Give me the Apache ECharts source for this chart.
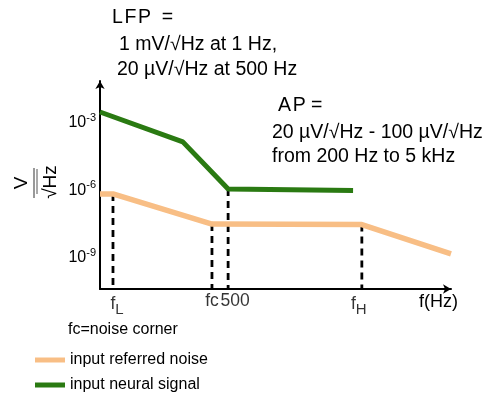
<!DOCTYPE html>
<html><head><meta charset="utf-8">
<script src="https://cdn.jsdelivr.net/npm/echarts@6/dist/echarts.min.js"></script>
<style>html,body{margin:0;padding:0;background:#fff}#chart{width:485px;height:394px}</style>
</head><body><div id="chart"></div>
<script>
// Positions along the schematic frequency axis (0 = axis origin, 100 = arrow end)
const noiseX = [0, 3.7, 31.9, 74.6, 100];
// log10 of the spectral density (V/√Hz)
const noiseExp = [-6.17, -6.17, -7.51, -7.53, -8.84];
const signalX = [0, 23.6, 36.5, 72.1];
const signalExp = [-2.52, -3.85, -5.95, -6.01];
// Decades that get a label on the vertical axis
const tickExp = [-9, -6, -3];
// Frequency markers: f_L, noise corner, 500 Hz, f_H
const freqLabels = ['f{sub|L}', 'fc', '500', 'f{sub|H}'];
const freqX = [noiseX[1], noiseX[2], signalX[2], noiseX[3]];
const freqTopExp = [noiseExp[1], noiseExp[2], signalExp[2], noiseExp[3]];
const freqLabelShift = [4, 0, 7, -3];

const yMin = -10.4, yMax = -1.14;
const NARROW = '"Liberation Sans Narrow", "Arial Narrow", "Liberation Sans", Arial, sans-serif';
const SANS = '"Liberation Sans", Arial, sans-serif';
const ORANGE = '#F8BE85';
const GREEN = '#2A7A12';

const chart = echarts.init(document.getElementById('chart'), null, { renderer: 'canvas' });

const dashSeries = freqX.map((x, i) => ({
  type: 'line',
  data: [[x, freqTopExp[i]], [x, yMin]],
  symbol: 'none',
  silent: true,
  z: 1,
  lineStyle: { color: '#000', width: 2.8, type: [7, 5] }
}));

const legendBase = {
  orient: 'vertical', left: 30, itemGap: 6,
  icon: 'rect', itemWidth: 30, itemHeight: 5,
  textStyle: { fontFamily: NARROW, fontSize: 16, color: '#000' }
};

const annotation = (text, x, y) => ({
  type: 'text', x, y,
  style: { text, font: '19.5px ' + SANS, fill: '#000', verticalAlign: 'middle' }
});

const option = {
  animation: false,
  backgroundColor: '#fff',
  grid: { left: 100, right: 34, top: 81, bottom: 105 },
  xAxis: {
    type: 'value', min: 0, max: 100,
    axisLine: { show: true, symbol: ['none', 'arrow'], symbolSize: [7, 8], lineStyle: { color: '#000', width: 2 } },
    axisTick: { show: false }, axisLabel: { show: false }, splitLine: { show: false }
  },
  yAxis: {
    type: 'value', min: yMin, max: yMax, interval: 0.2,
    axisLine: { show: true, symbol: ['none', 'arrow'], symbolSize: [7, 8], lineStyle: { color: '#000', width: 2 } },
    axisTick: { show: false }, splitLine: { show: false },
    axisLabel: {
      margin: 4,
      formatter: v => {
        const r = Math.round(v);
        if (Math.abs(v - r) > 1e-6 || tickExp.indexOf(r) < 0) return '';
        return '10{sup|' + r + '}';
      },
      color: '#000', fontFamily: NARROW, fontSize: 16,
      rich: { sup: { fontFamily: NARROW, fontSize: 11, verticalAlign: 'bottom', padding: [0, 0, 10, 0], color: '#000' } }
    }
  },
  legend: [
    Object.assign({ data: ['input referred noise'], top: 347 }, legendBase),
    Object.assign({ data: ['input neural signal'], top: 372 }, legendBase)
  ],
  series: [
    ...dashSeries,
    {
      name: 'input referred noise', type: 'line', z: 3,
      data: noiseX.map((x, i) => [x, noiseExp[i]]),
      symbol: 'none', color: ORANGE,
      lineStyle: { color: ORANGE, width: 5.5 }
    },
    {
      name: 'input neural signal', type: 'line', z: 4,
      data: signalX.map((x, i) => [x, signalExp[i]]),
      symbol: 'none', color: GREEN,
      lineStyle: { color: GREEN, width: 5 }
    },
    {
      type: 'scatter', silent: true, symbolSize: 0, z: 5,
      data: freqX.map((x, i) => ({
        value: [x, yMin],
        label: { offset: [freqLabelShift[i], 0] }
      })),
      label: {
        show: true, position: 'bottom', distance: 3,
        formatter: p => freqLabels[p.dataIndex],
        color: '#000', fontFamily: NARROW, fontSize: 17.5,
        rich: { sub: { fontFamily: NARROW, fontSize: 15, padding: [10, 0, 0, 0], color: '#000' } }
      }
    }
  ],
  graphic: [
    { type: 'text', x: 419, y: 302, style: { text: 'f(Hz)', font: '18px ' + NARROW, fill: '#000', verticalAlign: 'middle' } },
    { type: 'text', x: 68, y: 330, style: { text: 'fc=noise corner', font: '16px ' + NARROW, fill: '#000', verticalAlign: 'middle' } },
    annotation('L\u200AF\u200AP  =', 112, 18),
    annotation('1 mV/\u221AHz at 1 Hz,', 119, 45),
    annotation('20 \u00B5V/\u221AHz at 500 Hz', 117, 70),
    annotation('A\u200AP =', 278, 106),
    annotation('20 \u00B5V/\u221AHz - 100 \u00B5V/\u221AHz', 272, 133),
    annotation('from 200 Hz to 5 kHz', 272, 157),
    {
      // vertical axis unit: V over √Hz, turned to read upward
      type: 'group', x: 34, y: 183, rotation: Math.PI / 2,
      children: [
        { type: 'text', x: 0, y: -12, style: { text: 'V', font: '19px ' + SANS, fill: '#000', align: 'center', verticalAlign: 'middle' } },
        { type: 'line', shape: { x1: -15, y1: 0, x2: 15, y2: 0 }, style: { stroke: '#777', lineWidth: 1.5 } },
        { type: 'line', shape: { x1: -11, y1: 3, x2: 14, y2: 3 }, style: { stroke: '#555', lineWidth: 1 } },
        { type: 'text', x: 1, y: 17, style: { text: '\u221AHz', font: '19px ' + NARROW, fill: '#000', align: 'center', verticalAlign: 'middle' } }
      ]
    }
  ]
};
chart.setOption(option);
</script></body></html>
